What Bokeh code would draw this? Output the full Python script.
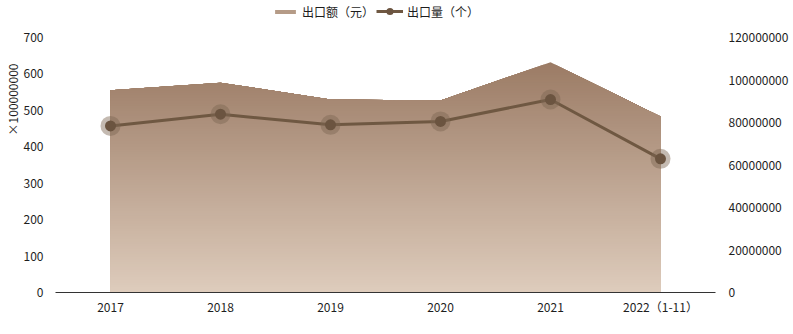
import numpy as np
from bokeh.plotting import figure
from bokeh.models import (Range1d, LinearAxis, FixedTicker, BasicTickFormatter,
                          Legend, LegendItem, Title)
from bokeh.embed import file_html
from bokeh.resources import INLINE

# ---- data ----
categories = ["2017", "2018", "2019", "2020", "2021", "2022（1-11）"]
export_value = [555, 576, 530, 527, 632, 483]          # 出口额（元）, ×100000000
export_qty = [78.4e6, 83.9e6, 78.9e6, 80.5e6, 90.8e6, 62.9e6]  # 出口量（个）
left_ticks = [0, 100, 200, 300, 400, 500, 600, 700]
right_ticks = [0, 20e6, 40e6, 60e6, 80e6, 100e6, 120e6]
series_names = ["出口额（元）", "出口量（个）"]
unit_text = "×100000000"

FONT = "Noto Sans CJK SC"
TXT = "#1e1e1e"

# frame spans the full height so the legend can sit above the value area
FRAME_H = 292      # px from canvas top to x axis
AXIS_H = 255       # px used by the ticked value range
stretch = FRAME_H / AXIS_H

xs = np.arange(len(categories), dtype=float)
ys = np.array(export_value, dtype=float)

p = figure(width=793, height=334, output_backend="svg", toolbar_location=None,
           x_range=Range1d(-0.5, len(categories) - 0.5),
           y_range=Range1d(left_ticks[0], left_ticks[-1] * stretch),
           min_border_left=55, min_border_right=78, min_border_top=0,
           min_border_bottom=42)
p.outline_line_color = None
p.background_fill_color = "white"
p.border_fill_color = "white"
p.xgrid.visible = False
p.ygrid.visible = False

p.extra_y_ranges = {"r": Range1d(right_ticks[0], right_ticks[-1] * stretch)}

# ---- gradient area via stacked clipped layers ----
top_c = np.array([155, 123, 101])
bot_c = np.array([222, 204, 188])
ymax = ys.max()
N = 90


def clipped(hi):
    pts = list(xs)
    for i in range(len(xs) - 1):
        a, b = ys[i], ys[i + 1]
        if (a - hi) * (b - hi) < 0:
            t = (hi - a) / (b - a)
            pts.append(xs[i] + t * (xs[i + 1] - xs[i]))
    pts = np.array(sorted(pts))
    yy = np.minimum(np.interp(pts, xs, ys), hi)
    return pts, yy


legend_band = None
for k in range(N, 0, -1):
    hi = ymax * k / N
    frac = (k - 0.5) / N
    c = bot_c + (top_c - bot_c) * frac
    col = "#%02x%02x%02x" % tuple(int(round(v)) for v in c)
    pts, yy = clipped(hi)
    r = p.varea(x=pts, y1=np.zeros_like(yy), y2=yy, fill_color=col)
    if k == int(N * 0.62):
        legend_band = r

# ---- line series ----
line_r = p.line(xs, export_qty, y_range_name="r", line_color="#6f5842", line_width=3)
halo_r = p.scatter(xs, export_qty, y_range_name="r", size=20, fill_color="#7d6651",
                   fill_alpha=0.45, line_color=None)
dot_r = p.scatter(xs, export_qty, y_range_name="r", size=11, fill_color="#6b5440",
                  line_color=None)

# ---- axes ----
p.xaxis.ticker = FixedTicker(ticks=list(xs))
p.xaxis.major_label_overrides = {i: c for i, c in enumerate(categories)}
p.xaxis.axis_line_color = "#333333"
p.xaxis.major_tick_line_color = None
p.xaxis.minor_tick_line_color = None
p.xaxis.major_label_standoff = -1
p.xaxis.major_label_text_font = FONT
p.xaxis.major_label_text_font_size = "12px"
p.xaxis.major_label_text_color = TXT

p.yaxis.ticker = FixedTicker(ticks=left_ticks)
p.yaxis.axis_line_color = None
p.yaxis.major_tick_line_color = None
p.yaxis.minor_tick_line_color = None
p.yaxis.major_label_standoff = 6
p.yaxis.major_label_text_font = FONT
p.yaxis.major_label_text_font_size = "12px"
p.yaxis.major_label_text_color = TXT

ry = LinearAxis(y_range_name="r", ticker=FixedTicker(ticks=right_ticks),
                formatter=BasicTickFormatter(use_scientific=False))
ry.axis_line_color = None
ry.major_tick_line_color = None
ry.minor_tick_line_color = None
ry.major_label_standoff = 7
ry.major_label_text_font = FONT
ry.major_label_text_font_size = "12px"
ry.major_label_text_color = TXT
p.add_layout(ry, "right")

# unit label (left panel title)
unit = Title(text=unit_text, align="right", offset=63, standoff=0,
             text_font=FONT, text_font_size="12px", text_color=TXT,
             text_font_style="normal")
p.add_layout(unit, "left")


# ---- legends (two, so each icon can have its own size) ----
def make_legend(item, x, gh, gw):
    lg = Legend(items=[item], orientation="horizontal", location=(x, FRAME_H - 21))
    lg.label_text_font = FONT
    lg.label_text_font_size = "12px"
    lg.label_text_color = TXT
    lg.glyph_width = gw
    lg.glyph_height = gh
    lg.label_height = 20
    lg.label_standoff = 4
    lg.spacing = 0
    lg.padding = 0
    lg.margin = 0
    lg.border_line_color = None
    lg.background_fill_alpha = 0
    return lg


p.add_layout(make_legend(LegendItem(label=series_names[0], renderers=[legend_band]),
                         217, 5, 26), "center")
p.add_layout(make_legend(LegendItem(label=series_names[1], renderers=[line_r, dot_r]),
                         321, 18, 27), "center")

open("out.html", "w").write(file_html(p, INLINE))
